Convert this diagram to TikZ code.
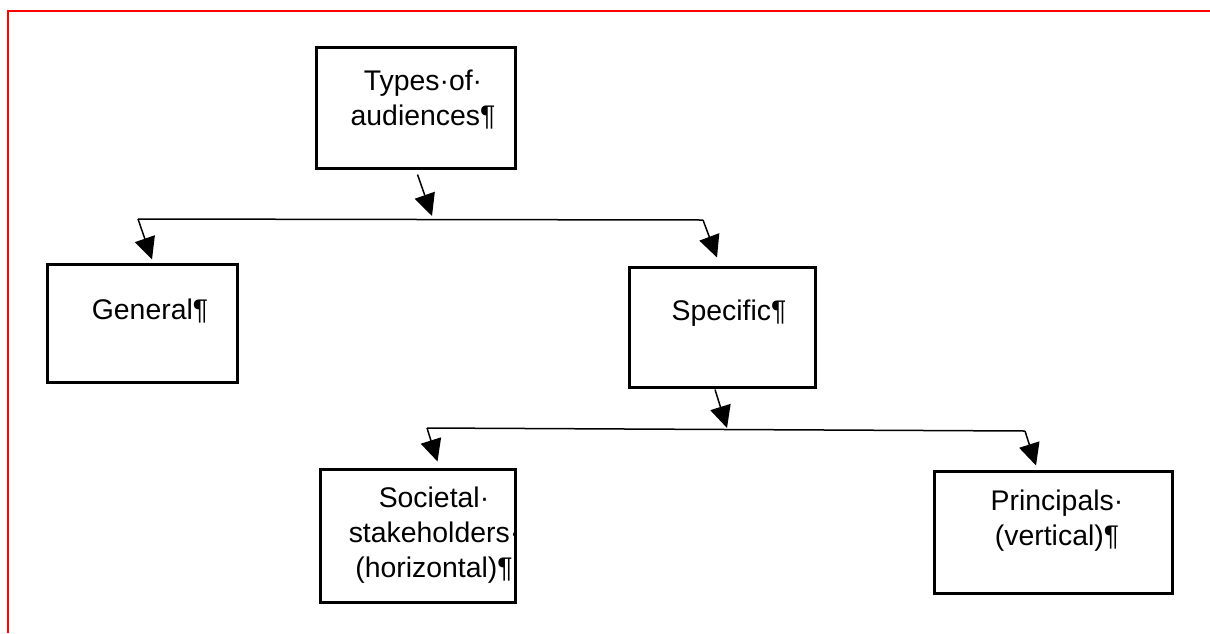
\documentclass[tikz,border=0pt]{standalone}
\usepackage{fontspec}
\setmainfont{Liberation Sans}
\usepackage{tikz}
\usetikzlibrary{arrows.meta}
\definecolor{myframecolor}{HTML}{FF0000}

\tikzset{
  audbox/.style={draw, line width=1.5pt, rectangle, inner sep=0pt},
  audtext/.style={align=center, inner sep=0pt, font=\fontsize{14.2pt}{17.5pt}\selectfont},
  audline/.style={line width=0.75pt},
  audarrow/.style={line width=0.75pt, -{Triangle[length=11pt,width=10.5pt]}}
}

\begin{document}
\begin{tikzpicture}[x=0.5pt, y=-0.5pt]%
\useasboundingbox (0,0) rectangle (1210,633);%
\draw[myframecolor, line width=1pt] (1210,11) -- (8,11) -- (8,633);%
\node[audbox, minimum width=99.5pt, minimum height=60.5pt] (types) at (415.5,107.5) {};%
\node[audbox, minimum width=95pt, minimum height=59pt] (general) at (142,323) {};%
\node[audbox, minimum width=93pt, minimum height=60pt] (specific) at (722,327) {};%
\node[audbox, minimum width=97.5pt, minimum height=66.5pt] (societal) at (417.5,535.5) {};%
\node[audbox, minimum width=119pt, minimum height=61pt] (principals) at (1053,532) {};%
\node[audtext] (typestext) at (423,100) {Types·of·\\audiences¶};%
\node[audtext] (generaltext) at (150,311) {General¶};%
\node[audtext] (specifictext) at (729,313) {Specific¶};%
\node[audtext] (societaltext) at (434,535) {Societal·\\stakeholders·\\(horizontal)¶};%
\node[audtext] (principalstext) at (1057,521) {Principals·\\(vertical)¶};%
\coordinate (bar1l) at (138,219);%
\coordinate (bar1r) at (703,220);%
\coordinate (bar1in) at (432,216);%
\coordinate (bar2l) at (427,428);%
\coordinate (bar2r) at (1025,431);%
\coordinate (bar2in) at (727,428);%
\draw[audline] (bar1l) -- (bar1r);%
\draw[audarrow] ([shift={(2,5)}]types.south) -- (bar1in);%
\draw[audarrow] (bar1l) -- ([shift={(10,-3)}]general.north);%
\draw[audarrow] (bar1r) -- ([shift={(-5,-8)}]specific.north);%
\draw[audline] (bar2l) -- (bar2r);%
\draw[audarrow] ([shift={(-7,1)}]specific.south) -- (bar2in);%
\draw[audarrow] (bar2l) -- ([shift={(20,-6)}]societal.north);%
\draw[audarrow] (bar2r) -- ([shift={(-17,-4)}]principals.north);%
\end{tikzpicture}
\end{document}
